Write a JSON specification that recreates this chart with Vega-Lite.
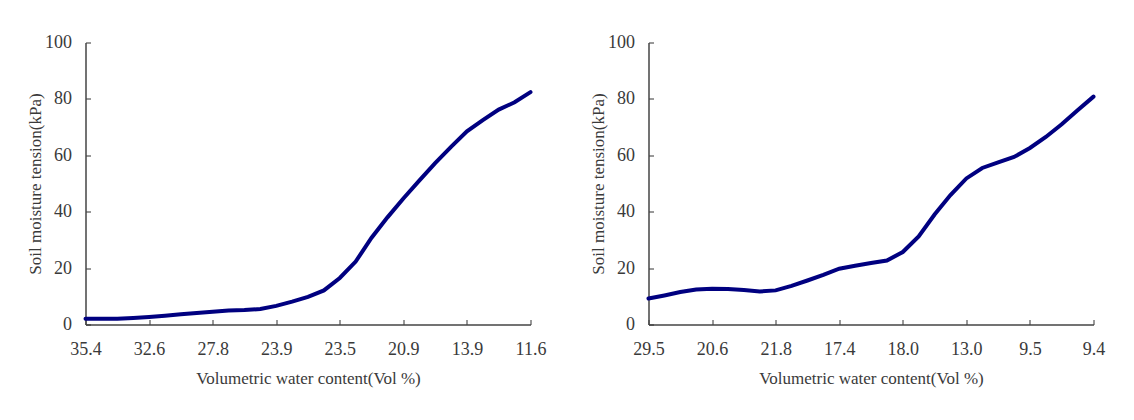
{
  "$schema": "https://vega.github.io/schema/vega-lite/v6.json",
  "background": "white",
  "padding": {"left": 26.5, "top": 33.5, "right": 5, "bottom": 5},
  "spacing": 43,
  "datasets": {
    "a": [
      {"i": 0, "v": 2.0}, {"i": 1, "v": 2.0}, {"i": 2, "v": 2.0}, {"i": 3, "v": 2.3},
      {"i": 4, "v": 2.7}, {"i": 5, "v": 3.1}, {"i": 6, "v": 3.6}, {"i": 7, "v": 4.1},
      {"i": 8, "v": 4.5}, {"i": 9, "v": 5.0}, {"i": 10, "v": 5.1}, {"i": 11, "v": 5.5},
      {"i": 12, "v": 6.6}, {"i": 13, "v": 8.1}, {"i": 14, "v": 9.8}, {"i": 15, "v": 12.1},
      {"i": 16, "v": 16.5}, {"i": 17, "v": 22.3}, {"i": 18, "v": 30.8}, {"i": 19, "v": 38.0},
      {"i": 20, "v": 44.7}, {"i": 21, "v": 51.0}, {"i": 22, "v": 57.2}, {"i": 23, "v": 63.0},
      {"i": 24, "v": 68.5}, {"i": 25, "v": 72.5}, {"i": 26, "v": 76.2}, {"i": 27, "v": 78.8},
      {"i": 28, "v": 82.4}
    ],
    "b": [
      {"i": 0, "v": 9.2}, {"i": 1, "v": 10.3}, {"i": 2, "v": 11.5}, {"i": 3, "v": 12.4},
      {"i": 4, "v": 12.7}, {"i": 5, "v": 12.6}, {"i": 6, "v": 12.2}, {"i": 7, "v": 11.7},
      {"i": 8, "v": 12.1}, {"i": 9, "v": 13.7}, {"i": 10, "v": 15.6}, {"i": 11, "v": 17.6},
      {"i": 12, "v": 19.8}, {"i": 13, "v": 20.8}, {"i": 14, "v": 21.8}, {"i": 15, "v": 22.7},
      {"i": 16, "v": 25.7}, {"i": 17, "v": 31.2}, {"i": 18, "v": 39.0}, {"i": 19, "v": 45.9},
      {"i": 20, "v": 51.8}, {"i": 21, "v": 55.5}, {"i": 22, "v": 57.5}, {"i": 23, "v": 59.4},
      {"i": 24, "v": 62.6}, {"i": 25, "v": 66.5}, {"i": 26, "v": 71.0}, {"i": 27, "v": 76.0},
      {"i": 28, "v": 80.8}
    ]
  },
  "config": {
    "view": {"stroke": null},
    "axis": {
      "grid": false,
      "labelFont": "Liberation Serif",
      "labelFontSize": 18,
      "labelColor": "#3a3a3a",
      "titleFont": "Liberation Serif",
      "titleFontSize": 17,
      "titleFontWeight": "normal",
      "titleColor": "#3a3a3a",
      "domainColor": "#444444",
      "domainWidth": 1.5,
      "tickColor": "#333333",
      "tickWidth": 1,
      "tickSize": -5,
      "labelOverlap": false,
      "labelFlush": false
    }
  },
  "hconcat": [
    {
      "width": 445,
      "height": 282,
      "data": {"name": "a"},
      "mark": {"type": "line", "color": "#000080", "strokeWidth": 4, "strokeCap": "round"},
      "encoding": {
        "x": {
          "field": "i", "type": "quantitative",
          "scale": {"domain": [0, 28], "nice": false, "zero": false},
          "axis": {
            "values": [0, 4, 8, 12, 16, 20, 24, 28],
            "labelExpr": "['35.4','32.6','27.8','23.9','23.5','20.9','13.9','11.6'][datum.value/4]",
            "labelPadding": 21,
            "titlePadding": 12,
            "title": "Volumetric water content(Vol %)"
          }
        },
        "y": {
          "field": "v", "type": "quantitative",
          "scale": {"domain": [0, 100], "nice": false},
          "axis": {
            "values": [0, 20, 40, 60, 80, 100],
            "labelPadding": 19,
            "titlePadding": 0,
            "title": "Soil moisture tension(kPa)"
          }
        }
      }
    },
    {
      "width": 445,
      "height": 282,
      "data": {"name": "b"},
      "mark": {"type": "line", "color": "#000080", "strokeWidth": 4, "strokeCap": "round"},
      "encoding": {
        "x": {
          "field": "i", "type": "quantitative",
          "scale": {"domain": [0, 28], "nice": false, "zero": false},
          "axis": {
            "values": [0, 4, 8, 12, 16, 20, 24, 28],
            "labelExpr": "['29.5','20.6','21.8','17.4','18.0','13.0','9.5','9.4'][datum.value/4]",
            "labelPadding": 21,
            "titlePadding": 12,
            "title": "Volumetric water content(Vol %)"
          }
        },
        "y": {
          "field": "v", "type": "quantitative",
          "scale": {"domain": [0, 100], "nice": false},
          "axis": {
            "values": [0, 20, 40, 60, 80, 100],
            "labelPadding": 19,
            "titlePadding": 0,
            "title": "Soil moisture tension(kPa)"
          }
        }
      }
    }
  ]
}
